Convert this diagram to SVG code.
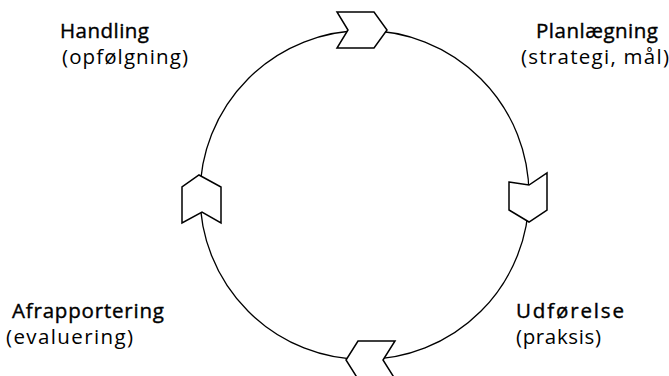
<svg xmlns="http://www.w3.org/2000/svg" width="669" height="376" viewBox="0 0 669 376">
<style>
.ring{fill:none;stroke:#000;stroke-width:1.3}
.chev{fill:#fff;stroke:#000;stroke-width:1.5;stroke-linejoin:miter}
.t{font-family:"Open Sans","Noto Sans",sans-serif;font-size:20.5px;fill:#000;stroke:#000;stroke-width:0.4}
.s{font-family:"Open Sans","Noto Sans",sans-serif;font-size:20.5px;fill:#000}
</style>
<rect width="669" height="376" fill="#fff"/>
<g id="connectors">
<circle class="ring" cx="364.5" cy="195" r="164.5"/>
<polygon id="arrow-top" class="chev" points="337,12 374,12 387,30 374,48 337,48 348,30"/>
<polygon id="arrow-right" class="chev" points="509,182 529,185 547,173 547,210 529,222 509,210"/>
<polygon id="arrow-bottom" class="chev" points="395,341 358,341 346,360 358,379 395,379 383,360"/>
<polygon id="arrow-left" class="chev" points="199,175 221,187 221,223 202,212 182,223 182,187"/>
</g>
<g id="handling">
<text class="t" x="60" y="38" textLength="89">Handling</text>
<text class="s" x="62" y="64" textLength="126">(opfølgning)</text>
</g>
<g id="planlaegning">
<text class="t" x="536" y="38" textLength="122">Planlægning</text>
<text class="s" x="521" y="64" textLength="148">(strategi, mål)</text>
</g>
<g id="udfoerelse">
<text class="t" x="516" y="318" textLength="108">Udførelse</text>
<text class="s" x="516" y="344" textLength="85">(praksis)</text>
</g>
<g id="afrapportering">
<text class="t" x="12" y="318" textLength="152">Afrapportering</text>
<text class="s" x="6" y="344" textLength="127">(evaluering)</text>
</g>
</svg>
